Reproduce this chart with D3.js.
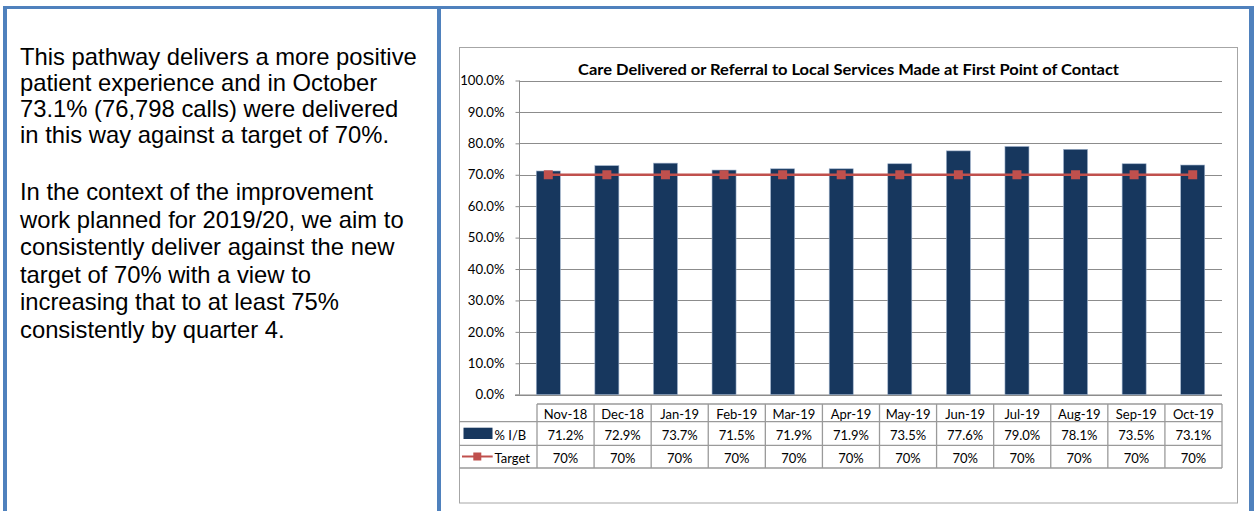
<!DOCTYPE html>
<html>
<head>
<meta charset="utf-8">
<script src="https://cdn.jsdelivr.net/npm/d3@7/dist/d3.min.js"></script>
<style>
  html, body { margin: 0; padding: 0; background: #fff; }
  svg { display: block; }
</style>
</head>
<body>
<svg id="chart" width="1254" height="511"></svg>
<script>
const categories = ["Nov-18","Dec-18","Jan-19","Feb-19","Mar-19","Apr-19","May-19","Jun-19","Jul-19","Aug-19","Sep-19","Oct-19"];
const ibValues = [71.2,72.9,73.7,71.5,71.9,71.9,73.5,77.6,79.0,78.1,73.5,73.1];
const targetValues = [70,70,70,70,70,70,70,70,70,70,70,70];
const yTicks = [0,10,20,30,40,50,60,70,80,90,100];
const seriesNames = ["% I/B","Target"];
const chartTitle = "Care Delivered or Referral to Local Services Made at First Point of Contact";
const paragraph1 = [
  "This pathway delivers a more positive",
  "patient experience and in October",
  "73.1% (76,798 calls) were delivered",
  "in this way against a target of 70%."
];
const paragraph2 = [
  "In the context of the improvement",
  "work planned for 2019/20, we aim to",
  "consistently deliver against the new",
  "target of 70% with a view to",
  "increasing that to at least 75%",
  "consistently by quarter 4."
];

const svg = d3.select("#chart");
const BLUE = "#4F81BD", NAVY = "#17375E", RED = "#C0504D", GRID = "#8c8c8c";
const FONT = "Lato, 'Open Sans', sans-serif";

// Outer blue frame
svg.append("rect").attr("x",3).attr("y",6).attr("width",1251).attr("height",3).attr("fill",BLUE);
svg.append("rect").attr("x",3).attr("y",6).attr("width",4).attr("height",505).attr("fill",BLUE);
svg.append("rect").attr("x",437).attr("y",6).attr("width",4).attr("height",505).attr("fill",BLUE);
svg.append("rect").attr("x",1249).attr("y",6).attr("width",5).attr("height",505).attr("fill",BLUE);

// Left text
const txt = svg.append("text").attr("font-family","'Liberation Sans', Arial, sans-serif")
  .attr("font-size",23.8).attr("fill","#000");
paragraph1.forEach((t,i) => {
  txt.append("tspan").attr("x",20).attr("y",65 + i*26).text(t);
});
paragraph2.forEach((t,i) => {
  txt.append("tspan").attr("x",20).attr("y",200 + i*27.5).text(t);
});

// Chart area border
svg.append("rect").attr("x",459.5).attr("y",47.5).attr("width",778).attr("height",455.5)
  .attr("fill","#fff").attr("stroke","#a6a6a6").attr("stroke-width",1);

// Title
svg.append("text").attr("x",848.5).attr("y",74.7).attr("text-anchor","middle")
  .attr("font-family",FONT).attr("font-weight","bold").attr("font-size",14.2)
  .attr("textLength",541).attr("lengthAdjust","spacingAndGlyphs")
  .attr("fill","#000").text(chartTitle);

const plotL = 519, plotR = 1222, plotT = 80.5, plotB = 394.7;
const x = d3.scaleBand().domain(categories).range([plotL, plotR]).paddingInner(0.59).paddingOuter(0.295);
const y = d3.scaleLinear().domain([0,100]).range([plotB, plotT]);

// Gridlines
svg.append("g").selectAll("line").data(yTicks.filter(d=>d>0)).join("line")
  .attr("x1",plotL).attr("x2",plotR)
  .attr("y1",d=>Math.round(y(d))+0.5).attr("y2",d=>Math.round(y(d))+0.5)
  .attr("stroke",GRID).attr("stroke-width",1);

// Y axis
const yAxis = svg.append("g").attr("transform",`translate(${plotL+0.5},0)`)
  .call(d3.axisLeft(y).tickValues(yTicks).tickFormat(d=>d.toFixed(1)+"%").tickSize(4).tickPadding(11));
yAxis.select(".domain").attr("stroke",GRID).attr("d",`M0,${plotT}V${plotB}`);
yAxis.selectAll(".tick line").attr("stroke",GRID);
yAxis.selectAll(".tick text").attr("font-family",FONT).attr("font-size",13.2).attr("fill","#000");

// X axis baseline
svg.append("line").attr("x1",plotL-4).attr("x2",plotR).attr("y1",plotB+0.5).attr("y2",plotB+0.5)
  .attr("stroke",GRID).attr("stroke-width",1.5);

// Bars
svg.append("g").selectAll("rect").data(categories).join("rect")
  .attr("x",d=>x(d)).attr("width",x.bandwidth())
  .attr("y",(d,i)=>y(ibValues[i])).attr("height",(d,i)=>plotB - y(ibValues[i]))
  .attr("fill",NAVY).attr("stroke","#9fb2cc").attr("stroke-width",0.6);

// Target line
const line = d3.line().x((d,i)=>x(categories[i]) + x.bandwidth()/2).y(d=>y(d));
svg.append("path").datum(targetValues).attr("d",line)
  .attr("fill","none").attr("stroke",RED).attr("stroke-width",2.5);
svg.append("g").selectAll("rect").data(targetValues).join("rect")
  .attr("x",(d,i)=>x(categories[i]) + x.bandwidth()/2 - 4.5).attr("y",d=>y(d)-4.5)
  .attr("width",9).attr("height",9).attr("fill",RED);

// Data table
const tL = 537, tR = 1222, legL = 459.5;
const rowTop = 404, r1 = 421.7, r2 = 445.3, r3 = 468;
const xt = d3.scaleBand().domain(categories).range([tL, tR]);
const tg = svg.append("g").attr("stroke","#9a9a9a").attr("stroke-width",1.3);
tg.append("line").attr("x1",tL).attr("x2",tR).attr("y1",rowTop).attr("y2",rowTop);
[r1,r2,r3].forEach(yy => tg.append("line").attr("x1",legL).attr("x2",tR).attr("y1",yy).attr("y2",yy));
tg.selectAll("line.v").data(categories.concat(["end"])).join("line").attr("class","v")
  .attr("x1",(d,i)=>tL + i*xt.step()).attr("x2",(d,i)=>tL + i*xt.step())
  .attr("y1",rowTop).attr("y2",r3);

const cellText = (rowY, vals, fmt) => {
  svg.append("g").selectAll("text").data(categories).join("text")
    .attr("x",d=>xt(d)+xt.bandwidth()/2).attr("y",rowY).attr("text-anchor","middle")
    .attr("font-family",FONT).attr("font-size",13).attr("fill","#000")
    .text((d,i)=>fmt(vals[i], d));
};
cellText(418.8, categories, v=>v);
cellText(440, ibValues, v=>v.toFixed(1)+"%");
cellText(463, targetValues, v=>v+"%");

// Legend keys in table
svg.append("rect").attr("x",463.5).attr("y",427.7).attr("width",29).attr("height",11.3).attr("fill",NAVY);
svg.append("text").attr("x",494.5).attr("y",440).attr("font-family",FONT).attr("font-size",13).text(seriesNames[0]);
svg.append("line").attr("x1",462).attr("x2",492.7).attr("y1",456.5).attr("y2",456.5).attr("stroke",RED).attr("stroke-width",2);
svg.append("rect").attr("x",473.3).attr("y",452.5).attr("width",8).attr("height",8).attr("fill",RED);
svg.append("text").attr("x",494.5).attr("y",463).attr("font-family",FONT).attr("font-size",13).text(seriesNames[1]);
</script>
</body>
</html>
